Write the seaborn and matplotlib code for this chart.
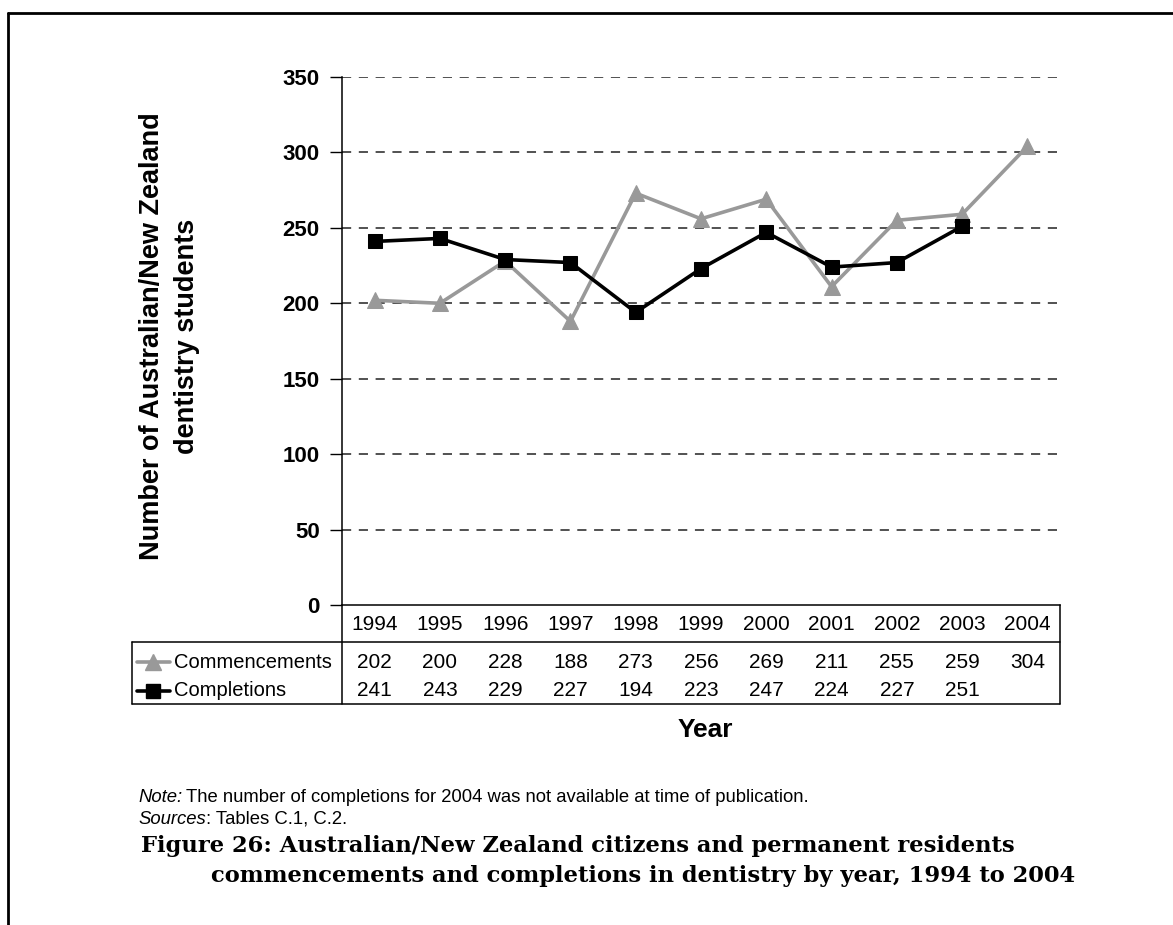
import numpy as np
import pandas as pd
import seaborn as sns
import matplotlib
matplotlib.use("Agg")
import matplotlib.pyplot as plt
from matplotlib.lines import Line2D
from matplotlib.transforms import blended_transform_factory

# ---- data -------------------------------------------------------------
years = [1994, 1995, 1996, 1997, 1998, 1999, 2000, 2001, 2002, 2003, 2004]
commencements = [202, 200, 228, 188, 273, 256, 269, 211, 255, 259, 304]
completions = [241, 243, 229, 227, 194, 223, 247, 224, 227, 251]  # 2004 not available
series_names = ["Commencements", "Completions"]
y_ticks = [0, 50, 100, 150, 200, 250, 300, 350]

GREY = "#999999"
BLACK = "#000000"

sns.set_theme(style="white")
plt.rcParams["font.family"] = ["Liberation Sans", "DejaVu Sans"]
plt.rcParams["text.color"] = "black"
plt.rcParams["ytick.color"] = "black"
plt.rcParams["ytick.labelcolor"] = "black"

W, H = 1173, 925
fig = plt.figure(figsize=(W / 100, H / 100), dpi=100)


def fx(px):
    return px / W


def fy(py):
    return 1 - py / H


# plot area in pixel terms
L, R, T, B = 342, 1060, 77, 605
ax = fig.add_axes([fx(L), fy(B), fx(R) - fx(L), fy(T) - fy(B)])

df_comm = pd.DataFrame({"Year": years, "Students": commencements})
df_comp = pd.DataFrame({"Year": years[:len(completions)], "Students": completions})

sns.lineplot(data=df_comm, x="Year", y="Students", ax=ax, color=GREY, lw=2.6,
             marker="^", markersize=12, markeredgecolor=GREY, markerfacecolor=GREY,
             zorder=3)
sns.lineplot(data=df_comp, x="Year", y="Students", ax=ax, color=BLACK, lw=2.6,
             marker="s", markersize=10.5, markeredgecolor=BLACK, markerfacecolor=BLACK,
             zorder=4)

ax.set_xlim(years[0] - 0.5, years[-1] + 0.5)
ax.set_ylim(0, 350)
ax.set_yticks(y_ticks)
ax.set_yticklabels([str(v) for v in y_ticks], fontsize=16, fontweight="bold")
ax.tick_params(axis="y", direction="out", length=9, width=1, color="black", pad=7,
               left=True)
ax.set_xticks([])
ax.set_xlabel("")
ax.set_ylabel("")
for v in y_ticks[1:]:
    ax.axhline(v, color="#222222", lw=1.1, ls=(0, (6, 5)), zorder=1)

for s in ["top", "right"]:
    ax.spines[s].set_visible(False)
ax.spines["left"].set_color("black")
ax.spines["bottom"].set_color("black")
ax.spines["left"].set_linewidth(1.1)
ax.spines["bottom"].set_linewidth(1.1)

# ---- data table under the plot ---------------------------------------
tr = blended_transform_factory(ax.transData, fig.transFigure)
row_year, row_comm, row_comp = 624, 662, 691
for i, yr in enumerate(years):
    ax.text(yr, fy(row_year), str(yr), transform=tr, ha="center", va="center",
            fontsize=15, clip_on=False)
    ax.text(yr, fy(row_comm), str(commencements[i]), transform=tr, ha="center",
            va="center", fontsize=15, clip_on=False)
    if i < len(completions):
        ax.text(yr, fy(row_comp), str(completions[i]), transform=tr, ha="center",
                va="center", fontsize=15, clip_on=False)


def hline(x0, x1, y, lw=1.1, color="black"):
    fig.add_artist(Line2D([fx(x0), fx(x1)], [fy(y), fy(y)], transform=fig.transFigure,
                          color=color, lw=lw))


def vline(x, y0, y1, lw=1.1, color="black"):
    fig.add_artist(Line2D([fx(x), fx(x)], [fy(y0), fy(y1)], transform=fig.transFigure,
                          color=color, lw=lw))


TBL_L, TBL_B, TBL_MID = 132, 704, 642
vline(L, B, TBL_B)
vline(R, B, TBL_B)
vline(TBL_L, TBL_MID, TBL_B)
hline(TBL_L, R, TBL_MID)
hline(TBL_L, R, TBL_B)

# legend keys inside the table
for name, row, col, mk, ms in [(series_names[0], row_comm, GREY, "^", 11),
                               (series_names[1], row_comp, BLACK, "s", 9.5)]:
    fig.add_artist(Line2D([fx(137), fx(170)], [fy(row), fy(row)],
                          transform=fig.transFigure, color=col, lw=2.6))
    fig.add_artist(Line2D([fx(153)], [fy(row)], transform=fig.transFigure,
                          color=col, marker=mk, markersize=ms, lw=0))
    fig.text(fx(174), fy(row), name, ha="left", va="center", fontsize=14.5)

# axis titles
fig.text(fx(169), fy(336), "Number of Australian/New Zealand\ndentistry students",
         rotation=90, ha="center", va="center", fontsize=19.5, fontweight="bold",
         linespacing=1.45)
fig.text(fx(705), fy(730), "Year", ha="center", va="center", fontsize=19,
         fontweight="bold")

# notes and caption
note_fs = 13.3
t1 = fig.text(fx(138), fy(797), "Note:", ha="left", va="center", fontsize=note_fs,
              style="italic")
fig.canvas.draw()
r = fig.canvas.get_renderer()
bb = t1.get_window_extent(r)
fig.text(bb.x1 / W + fx(4), fy(797),
         "The number of completions for 2004 was not available at time of publication.",
         ha="left", va="center", fontsize=note_fs)
t2 = fig.text(fx(138), fy(819), "Sources", ha="left", va="center", fontsize=note_fs,
              style="italic")
bb2 = t2.get_window_extent(r)
fig.text(bb2.x1 / W, fy(819), ": Tables C.1, C.2.", ha="left", va="center",
         fontsize=note_fs)

cap_font = ["DejaVu Serif"]
fig.text(fx(141), fy(846),
         "Figure 26: Australian/New Zealand citizens and permanent residents",
         ha="left", va="center", fontsize=16.3, fontweight="bold", family=cap_font)
fig.text(fx(211), fy(876),
         "commencements and completions in dentistry by year, 1994 to 2004",
         ha="left", va="center", fontsize=16.3, fontweight="bold", family=cap_font)

# page frame
fig.add_artist(Line2D([fx(8), 1], [fy(13), fy(13)], transform=fig.transFigure,
                      color="black", lw=2))
fig.add_artist(Line2D([fx(8), fx(8)], [fy(13), 0], transform=fig.transFigure,
                      color="black", lw=2))

fig.savefig("out.png", dpi=100, facecolor="white")
